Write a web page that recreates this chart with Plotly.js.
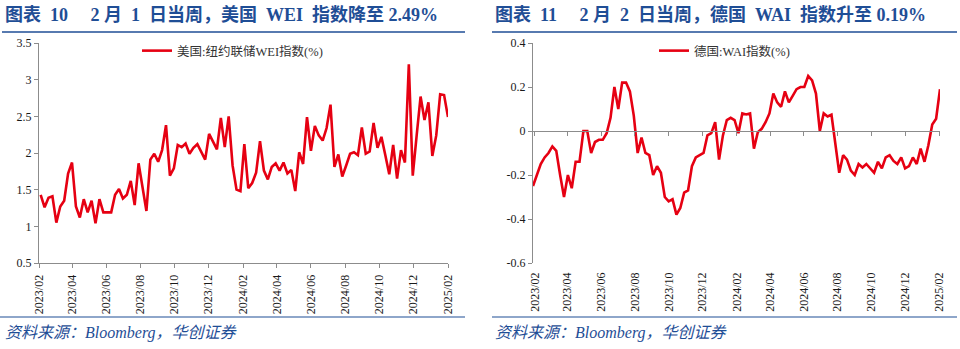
<!DOCTYPE html>
<html>
<head>
<meta charset="utf-8">
<script src="https://cdn.plot.ly/plotly-3.0.1.min.js"></script>
<style>html,body{margin:0;padding:0;background:#fff;}#chart{width:960px;height:349px;}</style>
</head>
<body>
<div id="chart"></div>
<script>
// ---------- data ----------
const usStart = '2023-02-04';   // weekly, week ending Saturday
const usWEI = [
  1.43,1.26,1.39,1.41,1.05,1.27,1.35,1.72,1.87,1.27,
  1.12,1.37,1.19,1.35,1.04,1.37,1.19,1.19,1.19,1.43,
  1.51,1.38,1.43,1.62,1.29,1.86,1.54,1.21,1.91,1.99,
  1.88,2.04,2.38,1.69,1.79,2.11,2.08,2.13,1.99,2.07,
  2.12,2.01,1.91,2.26,2.15,2.05,2.48,2.08,2.50,1.83,
  1.50,1.48,2.12,1.52,1.59,1.73,2.16,1.76,1.64,1.81,
  1.86,1.76,1.87,1.72,1.77,1.48,2.01,1.85,2.49,2.03,
  2.37,2.24,2.17,2.34,2.66,1.81,1.98,1.68,1.83,1.99,
  2.01,1.97,2.35,1.99,2.02,2.41,2.07,2.22,1.97,1.71,
  2.11,1.65,2.04,1.87,3.21,1.69,2.24,2.77,2.45,2.69,
  1.96,2.24,2.80,2.79,2.49
];
const deStart = '2023-01-29';   // weekly, week ending Sunday
const deWAI = [
  -0.25,-0.20,-0.15,-0.12,-0.10,-0.07,-0.09,-0.20,-0.30,-0.20,
  -0.26,-0.14,-0.14,0.00,0.00,-0.10,-0.05,-0.04,-0.04,-0.01,
  0.06,0.20,0.10,0.22,0.22,0.18,0.07,-0.10,-0.03,-0.10,
  -0.11,-0.20,-0.16,-0.19,-0.30,-0.32,-0.31,-0.38,-0.35,-0.28,
  -0.27,-0.16,-0.12,-0.11,-0.10,-0.02,-0.01,0.04,-0.13,-0.02,
  0.05,0.06,0.05,-0.01,0.08,0.075,0.08,-0.08,-0.005,0.01,
  0.04,0.08,0.17,0.13,0.11,0.18,0.13,0.16,0.19,0.20,
  0.20,0.25,0.23,0.17,0.00,0.08,0.066,0.074,-0.065,-0.19,
  -0.11,-0.13,-0.18,-0.20,-0.15,-0.166,-0.15,-0.17,-0.19,-0.14,
  -0.17,-0.12,-0.11,-0.136,-0.15,-0.12,-0.17,-0.16,-0.12,-0.15,
  -0.08,-0.14,-0.065,0.03,0.056,0.19
];
const usYTicks = [0.5,1,1.5,2,2.5,3,3.5];
const usYTickText = ['0.5','1','1.5','2','2.5','3','3.5'];
const deYTicks = [-0.6,-0.4,-0.2,0,0.2,0.4];
const deYTickText = ['-0.6','-0.4','-0.2','0','0.2','0.4'];
const usName = '美国:纽约联储WEI指数(%)';
const deName = '德国:WAI指数(%)';
const S = n => '\u00a0'.repeat(n);
const titleL = '图表' + S(2) + '10' + S(5) + '2' + S(1) + '月' + S(2) + '1' + S(2) + '日当周，美国' + S(2) + 'WEI' + S(2) + '指数降至' + S(1) + '2.49%';
const titleR = '图表' + S(2) + '11' + S(5) + '2' + S(1) + '月' + S(2) + '2' + S(2) + '日当周，德国' + S(2) + 'WAI' + S(2) + '指数升至' + S(1) + '0.19%';
const source = '资料来源：Bloomberg，华创证券';

function weekly(start, n){
  const out = []; const d0 = new Date(start + 'T00:00:00Z');
  for (let i = 0; i < n; i++){
    const d = new Date(d0.getTime() + i*7*86400000);
    out.push(d.toISOString().slice(0,10));
  }
  return out;
}
const usDates = weekly(usStart, usWEI.length);
const deDates = weekly(deStart, deWAI.length);

// ---------- layout helpers ----------
const W = 960, H = 349;
const px = v => v / W;
const py = v => 1 - v / H;
const FONT = 'Liberation Serif, "Noto Sans CJK SC", serif';
const BLUE = '#1f4e96';
const RED = '#e60012';
const AX = '#8c8c8c';

const yDom = [py(263), py(43)];
const deZeroPos = yDom[0] + (0 - deYTicks[0]) / (deYTicks[deYTicks.length-1] - deYTicks[0]) * (yDom[1] - yDom[0]);

const xCommon = {
  type: 'date', tickformat: '%Y/%m', dtick: 'M2', tick0: '2023-02-01',
  tickangle: -90, tickfont: {family: FONT, size: 12, color: '#1a1a1a'},
  showgrid: false, zeroline: false, fixedrange: true
};

const traces = [
  {x: usDates, y: usWEI, type: 'scatter', mode: 'lines', name: usName, showlegend: true,
   line: {color: RED, width: 2.6}, xaxis: 'x', yaxis: 'y', legend: 'legend', hoverinfo: 'skip'},
  {x: deDates, y: deWAI, type: 'scatter', mode: 'lines', name: deName, showlegend: true,
   line: {color: RED, width: 2.6}, xaxis: 'x2', yaxis: 'y2', legend: 'legend2', hoverinfo: 'skip'},
  {x: [], y: [], type: 'scatter', mode: 'lines', xaxis: 'x3', yaxis: 'y2', showlegend: false, legend: 'legend2', hoverinfo: 'skip'}
];

const layout = {
  width: W, height: H, autosize: false, showlegend: true,
  margin: {l: 0, r: 0, t: 0, b: 0, pad: 0},
  paper_bgcolor: '#fff', plot_bgcolor: 'rgba(0,0,0,0)',
  font: {family: FONT, color: '#1a1a1a'},
  xaxis: Object.assign({}, xCommon, {
    domain: [px(39), px(448)], anchor: 'y',
    range: [usDates[0].replace(/-\d\d$/, '-01'), usDates[usDates.length-1]],
    showline: true, linecolor: AX, linewidth: 1, ticks: 'outside', ticklen: 4, tickcolor: AX,
    ticklabelstandoff: 2
  }),
  yaxis: {
    domain: yDom, anchor: 'x', range: [0.5, 3.5],
    tickvals: usYTicks, ticktext: usYTickText,
    showline: true, linecolor: AX, linewidth: 1, ticks: 'outside', ticklen: 4, tickcolor: AX,
    tickfont: {family: FONT, size: 12, color: '#1a1a1a'}, showgrid: false, zeroline: false, fixedrange: true
  },
  xaxis2: Object.assign({}, xCommon, {
    domain: [px(533), px(940)], anchor: 'y2',
    range: [deDates[0], deDates[deDates.length-1]],
    showline: false, ticks: '', ticklabelstandoff: 6
  }),
  xaxis3: Object.assign({}, xCommon, {
    overlaying: 'x2', anchor: 'free', position: deZeroPos,
    range: [deDates[0], deDates[deDates.length-1]],
    showline: true, linecolor: AX, linewidth: 1, ticks: 'outside', ticklen: 4, tickcolor: AX,
    showticklabels: false
  }),
  yaxis2: {
    domain: yDom, anchor: 'x2', range: [deYTicks[0], deYTicks[deYTicks.length-1]],
    tickvals: deYTicks, ticktext: deYTickText,
    showline: true, linecolor: AX, linewidth: 1, ticks: 'outside', ticklen: 4, tickcolor: AX,
    tickfont: {family: FONT, size: 12, color: '#1a1a1a'}, showgrid: false, zeroline: false, fixedrange: true
  },
  legend: {
    visible: true,
    x: px(137), y: py(36), xanchor: 'left', yanchor: 'top', bgcolor: 'rgba(0,0,0,0)',
    font: {family: FONT, size: 12.5, color: '#333'}, itemwidth: 30, tracegroupgap: 0
  },
  legend2: {
    visible: true,
    x: px(654), y: py(36), xanchor: 'left', yanchor: 'top', bgcolor: 'rgba(0,0,0,0)',
    font: {family: FONT, size: 12.5, color: '#333'}, itemwidth: 30, tracegroupgap: 0
  },
  shapes: [
    {type: 'line', xref: 'paper', yref: 'paper', x0: px(2), x1: px(465), y0: py(32), y1: py(32), line: {color: BLUE, width: 1.5}},
    {type: 'line', xref: 'paper', yref: 'paper', x0: px(492), x1: px(957), y0: py(32), y1: py(32), line: {color: BLUE, width: 1.5}},
    {type: 'line', xref: 'paper', yref: 'paper', x0: px(0), x1: px(465), y0: py(317), y1: py(317), line: {color: BLUE, width: 1.2}},
    {type: 'line', xref: 'paper', yref: 'paper', x0: px(492), x1: px(957), y0: py(317), y1: py(317), line: {color: BLUE, width: 1.2}}
  ],
  annotations: [
    {text: '<b>' + titleL + '</b>', xref: 'paper', yref: 'paper', x: px(3), y: py(14), xanchor: 'left', yanchor: 'middle',
     showarrow: false, font: {family: FONT, size: 18, color: BLUE}},
    {text: '<b>' + titleR + '</b>', xref: 'paper', yref: 'paper', x: px(493), y: py(14), xanchor: 'left', yanchor: 'middle',
     showarrow: false, font: {family: FONT, size: 18, color: BLUE}},
    {text: '<i>' + source + '</i>', xref: 'paper', yref: 'paper', x: px(3), y: py(333), xanchor: 'left', yanchor: 'middle',
     showarrow: false, font: {family: FONT, size: 16, color: BLUE}},
    {text: '<i>' + source + '</i>', xref: 'paper', yref: 'paper', x: px(493), y: py(333), xanchor: 'left', yanchor: 'middle',
     showarrow: false, font: {family: FONT, size: 16, color: BLUE}}
  ]
};

Plotly.newPlot('chart', traces, layout, {staticPlot: true, displayModeBar: false});
</script>
</body>
</html>
